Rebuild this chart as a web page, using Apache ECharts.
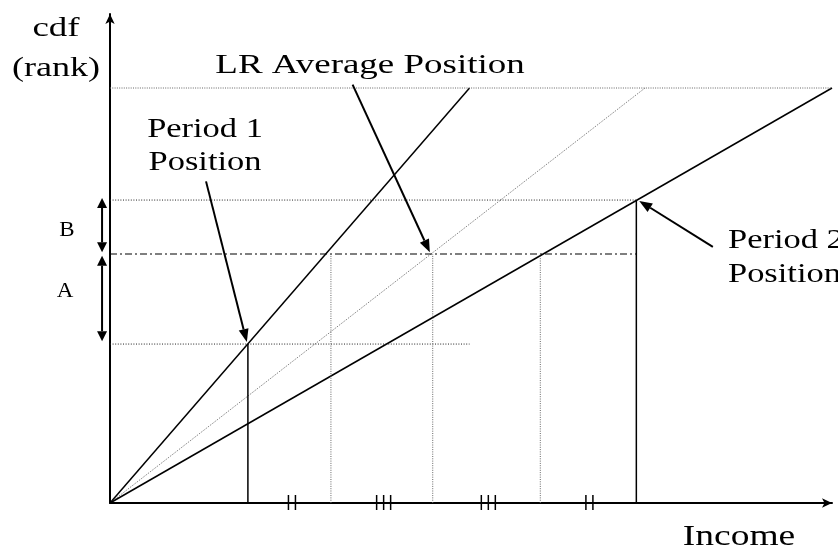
<!DOCTYPE html>
<html><head><meta charset="utf-8">
<script src="https://cdn.jsdelivr.net/npm/echarts@6/dist/echarts.min.js"></script>
<style>html,body{margin:0;padding:0;background:#fff}#c{width:838px;height:551px}</style>
</head><body><div id="c"></div>
<script>
// ---- data (income on x, cdf rank on y) ----
const lineNames = ['Period 1', 'LR Average', 'Period 2'];
const lineTopIncome = [0.498, 0.741, 1.0];      // income at which each cdf line reaches rank 1
const rankTop = 1.0;
const rankB = 0.73;                             // period 2 rank
const rankMid = 0.6;                            // LR average rank
const rankA = 0.383;                            // period 1 rank
const incomeP1 = 0.191;
const incomeP2 = 0.729;
const incomeMid = [0.306, 0.447, 0.596];        // incomes at LR average rank
const hatchIncome = [0.252, 0.379, 0.524, 0.664];
const hatchCount = [2, 3, 3, 2];
const pointerFrom = [[0.133, 0.775], [0.336, 1.008], [0.835, 0.617]];
const pointerTo = [[0.1895, 0.388], [0.443, 0.604], [0.733, 0.728]];
const braceX = -0.011;
const braceB = [0.735, 0.604];
const braceA = [0.596, 0.39];

// ---- helpers ----
function seg(p, q, style) {
  return { type: 'line', data: [p, q], showSymbol: false, symbol: 'none', silent: true,
           clip: false, lineStyle: style, z: 2 };
}
const solid = { color: '#000', width: 1.5, type: 'solid' };
const dotDark = { color: '#222', width: 1, type: [1, 1.6] };
const dotGray = { color: '#666', width: 1, type: [1, 1.3] };
const dashDot = { color: '#000', width: 1.2, type: [7, 3, 2, 3] };

function head(tip, from, len, half) {
  const dx = tip[0] - from[0], dy = tip[1] - from[1];
  const L = Math.hypot(dx, dy), ux = dx / L, uy = dy / L;
  const bx = tip[0] - ux * len, by = tip[1] - uy * len;
  return { el: { type: 'polygon', shape: { points: [tip, [bx - uy * half, by + ux * half], [bx + uy * half, by - ux * half]] },
           style: { fill: '#000' } }, base: [bx, by] };
}

const pointerData = pointerFrom.map((f, i) => [f[0], f[1], pointerTo[i][0], pointerTo[i][1], 0])
  .concat([[braceX, braceB[0], braceX, braceB[1], 1], [braceX, braceA[0], braceX, braceA[1], 1]]);

const series = [];
lineNames.forEach((n, i) => {
  series.push(seg([0, 0], [lineTopIncome[i], rankTop], i === 1 ? dotGray : solid));
});
series.push(seg([0, rankTop], [lineTopIncome[2], rankTop], dotGray));
series.push(seg([0, rankB], [incomeP2, rankB], dotDark));
series.push(seg([0, rankMid], [incomeP2, rankMid], dashDot));
series.push(seg([0, rankA], [lineTopIncome[0], rankA], dotDark));
series.push(seg([incomeP1, 0], [incomeP1, rankA], solid));
series.push(seg([incomeP2, 0], [incomeP2, rankB], solid));
incomeMid.forEach(x => series.push(seg([x, 0], [x, rankMid], dotGray)));

series.push({
  type: 'custom', coordinateSystem: 'cartesian2d', silent: true, clip: false, z: 5,
  encode: { x: 0, y: 1 },
  data: pointerData,
  renderItem(params, api) {
    const a = api.coord([api.value(0), api.value(1)]);
    const b = api.coord([api.value(2), api.value(3)]);
    const dbl = api.value(4) === 1;
    const len = dbl ? 10 : 13, half = 5;
    const hb = head(b, a, len, half);
    const children = [hb.el];
    let start = a;
    if (dbl) { const ha = head(a, b, len, half); children.push(ha.el); start = ha.base; }
    children.push({ type: 'line', shape: { x1: start[0], y1: start[1], x2: hb.base[0], y2: hb.base[1] },
                    style: { stroke: '#000', lineWidth: 2 } });
    return { type: 'group', children };
  }
});

series.push({
  type: 'custom', coordinateSystem: 'cartesian2d', silent: true, clip: false, z: 5,
  encode: { x: 0, y: 1 },
  data: hatchIncome.map((x, i) => [x, 0, hatchCount[i]]),
  renderItem(params, api) {
    const c = api.coord([api.value(0), api.value(1)]);
    const n = api.value(2), gap = 7;
    const children = [];
    for (let k = 0; k < n; k++) {
      const x = c[0] + (k - (n - 1) / 2) * gap;
      children.push({ type: 'line', shape: { x1: x, y1: c[1] - 8, x2: x, y2: c[1] + 7 },
                      style: { stroke: '#000', lineWidth: 1.5 } });
    }
    return { type: 'group', children };
  }
});

function txt(t, x, y, size, align, sx) {
  return { type: 'text', x, y, scaleX: sx, silent: true,
           style: { text: t, font: size + 'px "Liberation Serif", "Times New Roman", serif',
                    fill: '#000', textAlign: align, textVerticalAlign: 'middle' } };
}

const option = {
  animation: false,
  backgroundColor: '#fff',
  grid: { left: 110, right: 6, top: 14, bottom: 48 },
  xAxis: { type: 'value', min: 0, max: 1.0,
           axisLine: { lineStyle: { color: '#000', width: 2 }, symbol: ['none', 'arrow'], symbolSize: [7, 10] },
           axisTick: { show: false }, axisLabel: { show: false }, splitLine: { show: false } },
  yAxis: { type: 'value', min: 0, max: 489 / 415,
           axisLine: { show: true, lineStyle: { color: '#000', width: 2 }, symbol: ['none', 'arrow'], symbolSize: [7, 10] },
           axisTick: { show: false }, axisLabel: { show: false }, splitLine: { show: false } },
  series,
  graphic: { elements: [
    txt('cdf', 56, 29, 28, 'center', 1.32),
    txt('(rank)', 56, 69, 28, 'center', 1.29),
    txt('LR Average Position', 370, 66, 28, 'center', 1.32),
    txt('Period 1', 205, 130, 28, 'center', 1.23),
    txt('Position', 205, 163, 28, 'center', 1.23),
    txt('Period 2', 728, 241, 28, 'left', 1.23),
    txt('Position', 728, 275, 28, 'left', 1.23),
    txt('B', 67, 231, 20, 'center', 1.15),
    txt('A', 65, 292, 20, 'center', 1.15),
    txt('Income', 739, 537, 30, 'center', 1.25)
  ] }
};
echarts.init(document.getElementById('c'), null, { renderer: 'canvas' }).setOption(option);
</script></body></html>
